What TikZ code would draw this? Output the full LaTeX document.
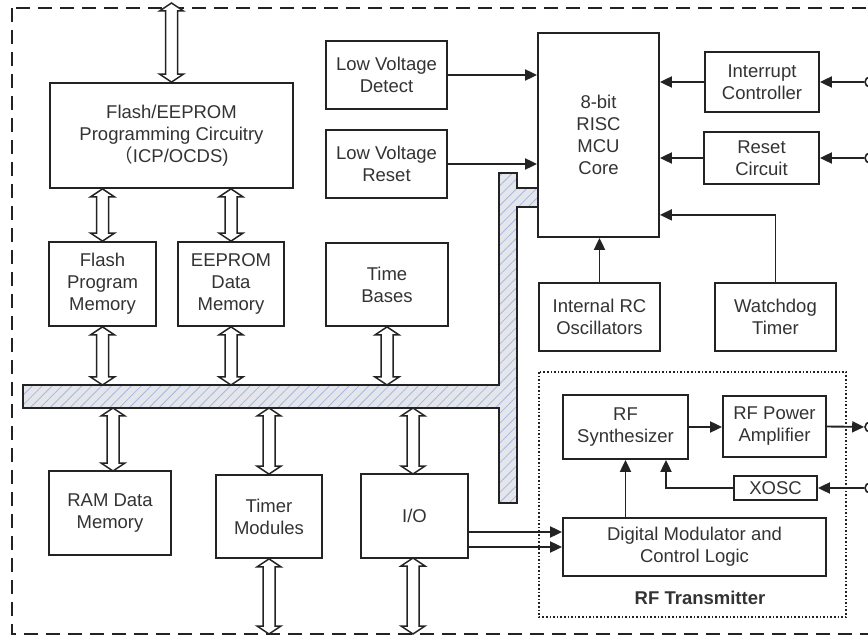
\documentclass[tikz,border=0pt]{standalone}
\usepackage{fontspec}
\setmainfont{Liberation Sans}
\newfontfamily\cjk{Noto Sans CJK SC}
\usetikzlibrary{arrows.meta,patterns.meta,calc}
\definecolor{busgray}{RGB}{228,230,236}
\definecolor{hatchblue}{RGB}{165,185,222}
\definecolor{ink}{RGB}{35,35,35}

\tikzset{
  blk/.style={draw=ink, line width=1.8pt, fill=white, align=center, inner sep=0pt, text=black!80},
  sig/.style={draw=ink, line width=1.9pt, -{Triangle[length=12pt,width=11pt]}},
  busarr/.style={draw=ink, line width=1.5pt, fill=white, line join=miter},
  pinc/.style={circle, draw=ink, line width=1.6pt, fill=white, minimum size=10pt, inner sep=0pt},
}
% hollow double arrow, #1 upper end, #2 lower end
\newcommand{\busarrow}[2]{%
  \path[busarr] let \p1=#1, \p2=#2 in
    (\x1,\y1) -- (\x1+12pt,\y1-8pt) -- (\x1+6pt,\y1-8pt) -- (\x1+6pt,\y2+8pt) -- (\x1+12pt,\y2+8pt)
    -- (\x1,\y2) -- (\x1-12pt,\y2+8pt) -- (\x1-6pt,\y2+8pt) -- (\x1-6pt,\y1-8pt) -- (\x1-12pt,\y1-8pt) -- cycle;}

\begin{document}
\begin{tikzpicture}[x=1pt,y=-1pt,font=\fontsize{18.5}{22}\selectfont]
\useasboundingbox (0,0) rectangle (868,636);
\draw[ink, line width=1.8pt, dash pattern=on 14pt off 8pt] (12,8) rectangle (880,634);
\coordinate (top) at (0,3);
\coordinate (bottom) at (0,634);
\coordinate (bustop) at (0,385);
\coordinate (busbot) at (0,408);

% data bus
\fill[busgray] (23,385) -- (499,385) -- (499,173) -- (517,173) -- (517,188) -- (538,188) -- (538,207) -- (517,207) -- (517,503) -- (499,503) -- (499,408) -- (23,408) -- cycle;
\fill[pattern={Lines[angle=45,distance=7pt,line width=0.8pt]}, pattern color=hatchblue] (23,385) -- (499,385) -- (499,173) -- (517,173) -- (517,188) -- (538,188) -- (538,207) -- (517,207) -- (517,503) -- (499,503) -- (499,408) -- (23,408) -- cycle;
\draw[ink, line width=1.7pt] (538,188) -- (517,188) -- (517,173) -- (499,173) -- (499,385) -- (23,385) -- (23,408) -- (499,408) -- (499,503) -- (517,503) -- (517,207) -- (538,207);

\node[blk, minimum width=243pt, minimum height=105pt] (prog) at (171.5,135.5) {Flash/EEPROM\\Programming Circuitry\\{\cjk （}ICP/OCDS)};
\node[blk, minimum width=107pt, minimum height=84pt] (flashprog) at (102.5,284) {Flash\\Program\\Memory};
\node[blk, minimum width=106pt, minimum height=84pt] (eeprom) at (231,284) {EEPROM\\Data\\Memory};
\node[blk, minimum width=122pt, minimum height=83pt] (timebase) at (387,284.5) {Time\\Bases};
\node[blk, minimum width=121pt, minimum height=68pt] (lvd) at (386.5,75) {Low Voltage\\Detect};
\node[blk, minimum width=121pt, minimum height=68pt] (lvr) at (386.5,164) {Low Voltage\\Reset};
\node[blk, minimum width=121pt, minimum height=204pt] (mcu) at (598.5,135) {8-bit\\RISC\\MCU\\Core};
\node[blk, minimum width=114pt, minimum height=60pt] (intc) at (762,82) {Interrupt\\Controller};
\node[blk, minimum width=115pt, minimum height=52pt] (rstc) at (761.5,158) {Reset\\Circuit};
\node[blk, minimum width=121pt, minimum height=68pt] (irc) at (599.5,317) {Internal RC\\Oscillators};
\node[blk, minimum width=121pt, minimum height=68pt] (wdt) at (775.5,317) {Watchdog\\Timer};
\node[blk, minimum width=122pt, minimum height=84pt] (ram) at (110,513) {RAM Data\\Memory};
\node[blk, minimum width=106pt, minimum height=83pt] (timer) at (269,516.5) {Timer\\Modules};
\node[blk, minimum width=107pt, minimum height=84pt] (io) at (414.5,516) {I/O};

% RF transmitter
\draw[ink, line width=1.6pt, dash pattern=on 1.6pt off 2pt] (539,372) rectangle (846,617);
\node[blk, minimum width=125pt, minimum height=64pt] (synth) at (625.5,427) {RF\\Synthesizer};
\node[blk, minimum width=103pt, minimum height=61pt] (rfpa) at (774.5,426.5) {RF Power\\Amplifier};
\node[blk, minimum width=83pt, minimum height=24pt] (xosc) at (775.5,488) {XOSC};
\node[blk, minimum width=263pt, minimum height=58pt] (dmod) at (694.5,547) {Digital Modulator and\\Control Logic};
\node[text=black!80, font=\fontsize{18.5}{22}\selectfont\bfseries] (rflabel) at (700,598) {RF Transmitter};

\node[pinc] (pinint) at (870,82) {};
\node[pinc] (pinrst) at (870,158) {};
\node[pinc] (pinout) at (870,427) {};
\node[pinc] (pinx) at (870,488) {};

% signals
\draw[sig] (lvd.east) -- (lvd.east -| mcu.west);
\draw[sig] (lvr.east) -- (lvr.east -| mcu.west);
\draw[sig] (intc.west) -- (intc.west -| mcu.east);
\draw[sig] (rstc.west) -- (rstc.west -| mcu.east);
\draw[sig] (pinint) -- (intc.east);
\draw[sig] (pinrst) -- (rstc.east);
\draw[sig] (irc.north) -- (irc.north |- mcu.south);
\draw[sig] (wdt.north) |- ([yshift=23pt]mcu.south east);
\draw[sig] (synth.east) -- (synth.east -| rfpa.west);
\draw[sig] (rfpa.east) -- (pinout);
\draw[sig] (pinx) -- (xosc.east);
\draw[sig] (xosc.west) -| ([xshift=40.5pt]synth.south);
\draw[sig] (dmod.north -| synth.south) -- (synth.south);
\draw[sig] ([yshift=-16pt]io.east) coordinate (ioa) -- (ioa -| dmod.west);
\draw[sig] ([yshift=-31pt]io.east) coordinate (iob) -- (iob -| dmod.west);

% bus arrows
\busarrow{(prog.north |- top)}{(prog.north)}
\busarrow{(flashprog.north |- prog.south)}{(flashprog.north)}
\busarrow{(eeprom.north |- prog.south)}{(eeprom.north)}
\busarrow{(flashprog.south)}{(flashprog.south |- bustop)}
\busarrow{(eeprom.south)}{(eeprom.south |- bustop)}
\busarrow{(timebase.south)}{(timebase.south |- bustop)}
\busarrow{(113,408)}{(113,471)}
\busarrow{(timer.north |- busbot)}{(timer.north)}
\busarrow{(timer.south)}{(timer.south |- bottom)}
\busarrow{(413,408)}{(413,474)}
\busarrow{(413,558)}{(413,634)}
\end{tikzpicture}
\end{document}
